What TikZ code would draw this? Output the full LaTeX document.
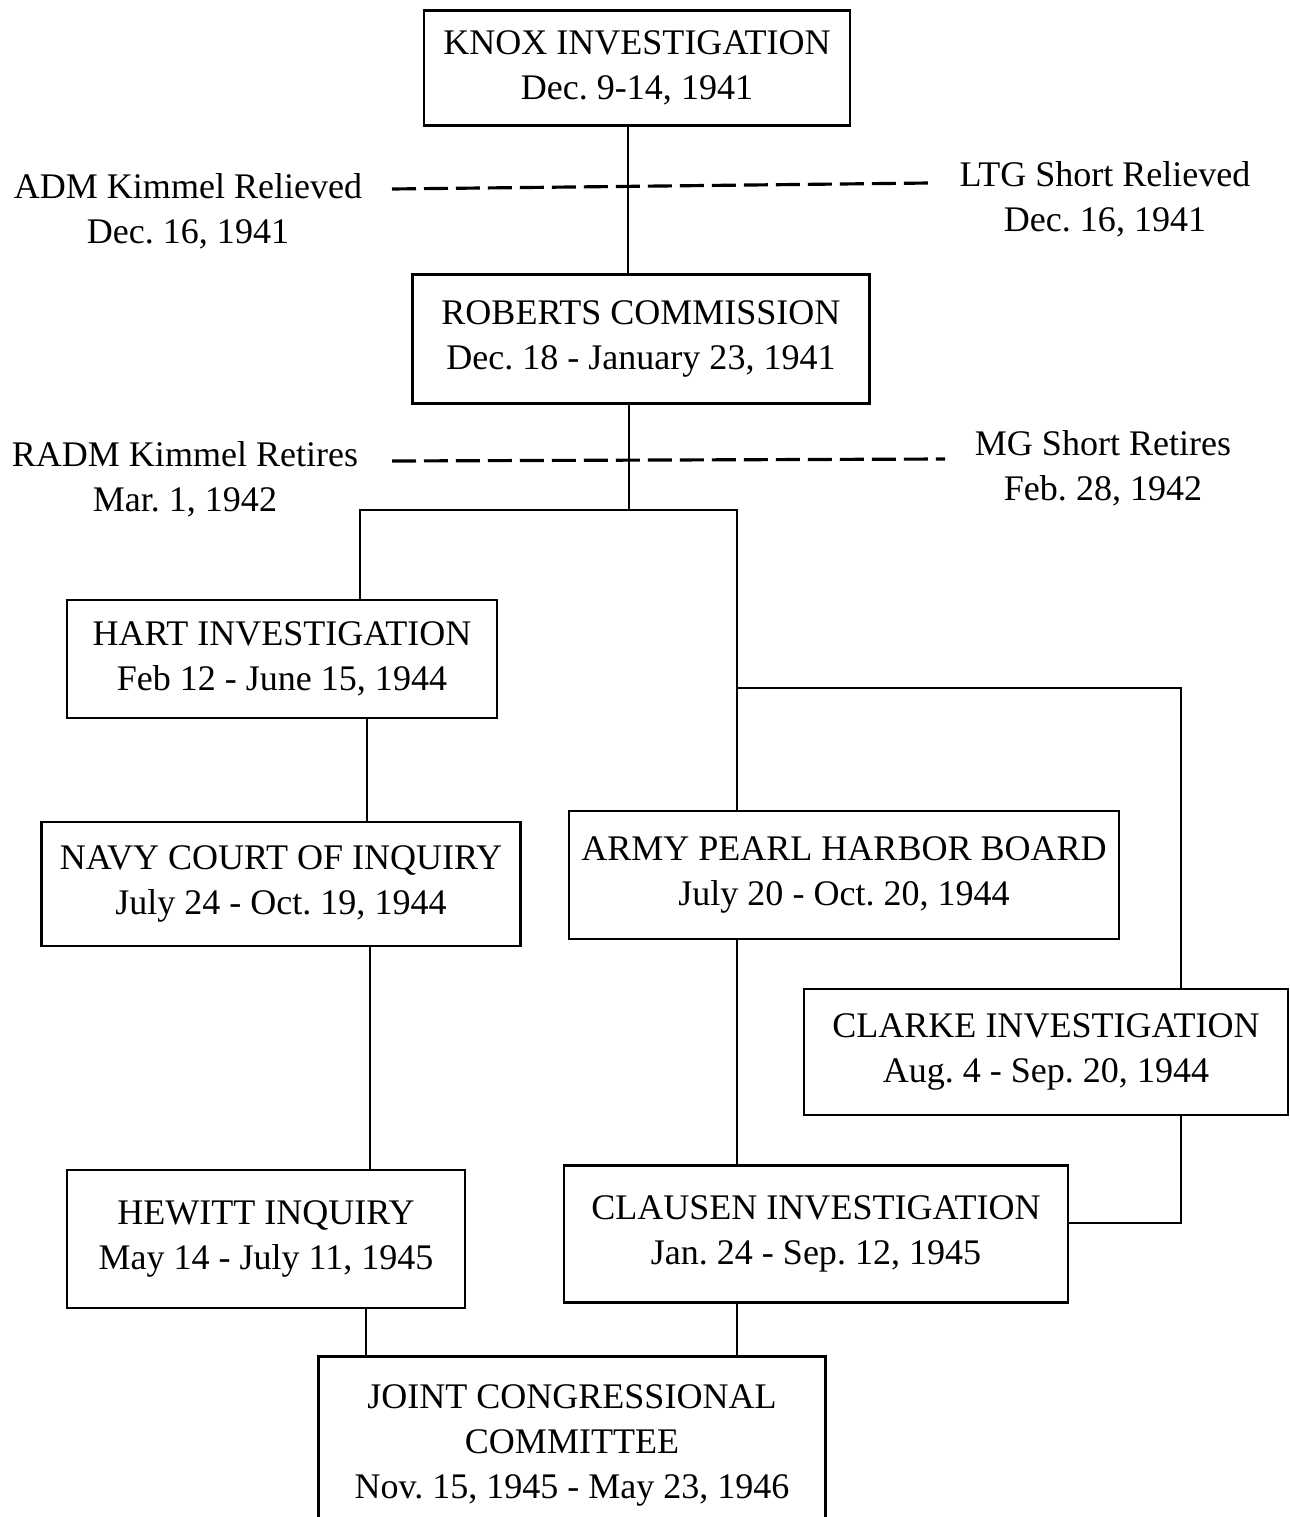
\documentclass[tikz,border=0pt]{standalone}
\usepackage{fontspec}
\setmainfont{Liberation Serif}
\usepackage{tikz}
\frenchspacing

\begin{document}
\begin{tikzpicture}[x=0.02cm, y=-0.02cm,
    box/.style={draw, line width=1.4pt, rectangle, inner sep=0pt, align=center},
    note/.style={align=center},
    link/.style={line width=1.1pt},
    relief/.style={line width=1.8pt, dash pattern=on 0.48cm off 0.16cm},
    every node/.style={font=\fontsize{20.5}{25.6}\selectfont}]
\useasboundingbox (0,0) rectangle (1290,1517);

% Investigations and boards
\node[box, minimum width=8.52cm, minimum height=2.30cm] (knox) at (637,68) {KNOX INVESTIGATION\\Dec. 9-14, 1941};
\node[box, minimum width=9.14cm, minimum height=2.58cm] (roberts) at (641,339) {ROBERTS COMMISSION\\Dec. 18 - January 23, 1941};
\node[box, minimum width=8.60cm, minimum height=2.36cm] (hart) at (282,659) {HART INVESTIGATION\\Feb 12 - June 15, 1944};
\node[box, minimum width=9.58cm, minimum height=2.48cm] (navy) at (281,884) {NAVY COURT OF INQUIRY\\July 24 - Oct. 19, 1944};
\node[box, minimum width=11.00cm, minimum height=2.56cm] (army) at (844,875) {ARMY PEARL HARBOR BOARD\\July 20 - Oct. 20, 1944};
\node[box, minimum width=9.68cm, minimum height=2.52cm] (clarke) at (1046,1052) {CLARKE INVESTIGATION\\Aug. 4 - Sep. 20, 1944};
\node[box, minimum width=7.96cm, minimum height=2.76cm] (hewitt) at (266,1239) {HEWITT INQUIRY\\May 14 - July 11, 1945};
\node[box, minimum width=10.08cm, minimum height=2.74cm] (clausen) at (816,1234) {CLAUSEN INVESTIGATION\\Jan. 24 - Sep. 12, 1945};
\node[note, minimum width=10.12cm, minimum height=3.24cm] (joint) at (572,1445) {JOINT CONGRESSIONAL\\COMMITTEE\\Nov. 15, 1945 - May 23, 1946};
\draw[line width=1.4pt] (joint.south west) |- ([yshift=0.14cm]joint.north east) -- (joint.south east);

% Reliefs and retirements
\node[note] (kimmelrel) at (188,211) {ADM Kimmel Relieved\\Dec. 16, 1941};
\node[note] (shortrel) at (1105,199) {LTG Short Relieved\\Dec. 16, 1941};
\node[note] (kimmelret) at (185,479) {RADM Kimmel Retires\\Mar. 1, 1942};
\node[note] (shortret) at (1103,468) {MG Short Retires\\Feb. 28, 1942};
\coordinate (relL) at (392,189);
\coordinate (relR) at (930,183);
\coordinate (retL) at (392,461);
\coordinate (retR) at (945,459);
\draw[relief] (relL) -- (relR);
\draw[relief] (retL) -- (retR);

% Columns and junctions
\coordinate (colK) at (628,0);
\coordinate (colH) at (367,0);
\coordinate (colN) at (370,0);
\coordinate (colJ) at (366,0);
\coordinate (colB) at (737,0);
\coordinate (colC) at (1181,0);
\coordinate (fork) at (629,510);
\coordinate (forkL) at (360,510);
\coordinate (forkR) at (737,510);
\coordinate (branch) at (737,688);
\coordinate (branchR) at (1181,688);

% Connections
\draw[link] (knox.south -| colK) -- (roberts.north -| colK);
\draw[link] (roberts.south -| fork) -- (fork);
\draw[link] (hart.north -| forkL) |- (forkR) -- (army.north -| forkR);
\draw[link] (branch) -- (branchR) -- (clarke.north -| branchR);
\draw[link] (hart.south -| colH) -- (navy.north -| colH);
\draw[link] (navy.south -| colN) -- (hewitt.north -| colN);
\draw[link] (army.south -| colB) -- (clausen.north -| colB);
\draw[link] (clarke.south -| colC) |- ([yshift=0.22cm]clausen.east);
\draw[link] (hewitt.south -| colJ) -- ([yshift=0.14cm]joint.north -| colJ);
\draw[link] (clausen.south -| colB) -- ([yshift=0.14cm]joint.north -| colB);
\end{tikzpicture}
\end{document}
